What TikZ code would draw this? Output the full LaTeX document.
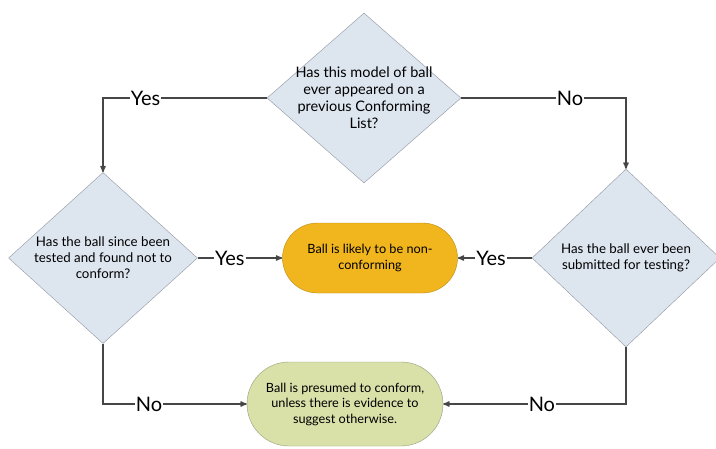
\documentclass[tikz,border=0pt]{standalone}
\usepackage{fontspec}
\setmainfont{Lato}
\usetikzlibrary{arrows,positioning,shapes.geometric}
\definecolor{qfill}{RGB}{221,229,239}
\definecolor{qline}{RGB}{145,150,160}
\definecolor{orfill}{RGB}{241,181,30}
\definecolor{orline}{RGB}{185,140,25}
\definecolor{grfill}{RGB}{217,224,168}
\definecolor{grline}{RGB}{150,158,125}
\definecolor{pilcol}{RGB}{70,70,70}
\tikzset{
    %Define standard arrow tip
    >=stealth',
    %Define style for question diamonds
    frage/.style={
           diamond,
           draw=qline, thin,
           fill=qfill,
           inner sep=0pt},
    fragetext/.style={
           align=center,
           font=\fontsize{13.3}{16}\selectfont},
    %Define style for end boxes
    ende/.style={
           rectangle,
           thin,
           align=center,
           inner sep=0pt,
           font=\fontsize{12.7}{15.5}\selectfont},
    % Define arrow style
    pil/.style={
           ->,
           draw=pilcol,
           line width=1.3pt},
    % Define label style
    svar/.style={
           fill=white,
           inner sep=1pt,
           text=black,
           font=\fontsize{20}{20}\selectfont}
}

\begin{document}
\begin{tikzpicture}[x=1pt,y=-1pt]
\useasboundingbox (0,0) rectangle (716,448);

\node[frage, minimum width=194pt, minimum height=170pt,
  label={[fragetext, font=\fontsize{14.5}{17}\selectfont]center:{Has this model of ball\\ ever appeared on a\\ previous Conforming\\ List?}}]
  (1) at (364,98) {};
\node[frage, minimum width=189pt, minimum height=171pt,
  label={[fragetext]center:{Has the ball since been\\ tested and found not to\\ conform?}}]
  (2) at (103,258) {};
\node[frage, minimum width=188pt, minimum height=178pt,
  label={[fragetext]center:{Has the ball ever been\\ submitted for testing?}}]
  (3) at (626,258) {};
\node[ende, draw=orline, fill=orfill, rounded corners=35pt,
  minimum width=175pt, minimum height=70pt]
  (4) at (370,258) {Ball is likely to be non-\\ conforming};
\node[ende, draw=grline, fill=grfill, rounded corners=42pt,
  minimum width=196pt, minimum height=84pt]
  (5) at (345,404) {Ball is presumed to conform,\\ unless there is evidence to\\ suggest otherwise.};

\draw[pil] (1.west) -| node[svar, pos=0.37] {Yes} (2.north);
\draw[pil] (1.east) -| node[svar, pos=0.33] {No} (3.north);
\draw[pil] (2.east) -- node[svar, pos=0.38] {Yes} (4.west);
\draw[pil] (3.west) -- node[svar, pos=0.55] {Yes} (4.east);
\draw[pil] (2.south) |- node[svar, pos=0.66] {No} (5.west);
\draw[pil] (3.south) |- node[svar, pos=0.73] {No} (5.east);

\end{tikzpicture}
\end{document}
